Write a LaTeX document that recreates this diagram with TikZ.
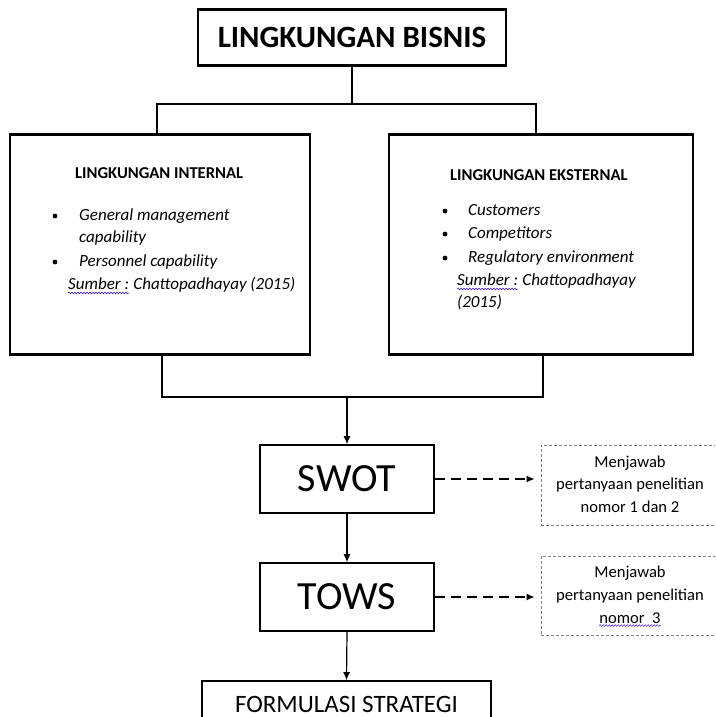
\documentclass[tikz,border=0pt]{standalone}
\usepackage{fontspec}
\setmainfont{Carlito}
\usetikzlibrary{arrows.meta,decorations.pathmorphing}
\begin{document}
\begin{tikzpicture}[x=1pt,y=-1pt,
  bigbox/.style={draw, line width=2.7pt, inner sep=0pt},
  midbox/.style={draw, line width=1.6pt, inner sep=0pt},
  notebox/.style={draw=gray, line width=0.9pt, dash pattern=on 3pt off 2pt, inner sep=0pt},
  link/.style={line width=2pt},
  linkb/.style={line width=2.5pt},
  arr/.style={line width=1.2pt, -{Latex[length=8pt,width=7pt]}},
  darr/.style={arr, dash pattern=on 10pt off 6pt},
  wavy/.style={draw=blue!60!violet, line width=0.5pt, decorate, decoration={snake, amplitude=0.8pt, segment length=3pt}},
  ttl/.style={anchor=base west, inner sep=0pt, font=\fontsize{16.6}{18}\selectfont\bfseries},
  itx/.style={anchor=base west, inner sep=0pt, font=\fontsize{17}{18}\selectfont\itshape},
  ntx/.style={anchor=base, inner sep=0pt, font=\fontsize{16.6}{18}\selectfont},
  bul/.style={fill=black}
]
\useasboundingbox (0,0) rectangle (715,717);
\clip (0,0) rectangle (715,717);

% top
\node[bigbox, minimum width=308pt, minimum height=56pt, font=\fontsize{31}{32}\selectfont\bfseries] (top) at (352,37.5) {LINGKUNGAN BISNIS};

% side boxes
\node[bigbox, minimum width=300pt, minimum height=220pt] (lb) at (160,244.5) {};
\node[bigbox, minimum width=304pt, minimum height=220pt] (rb) at (541,244.5) {};

% connectors top
\coordinate (jl) at (157,104);
\coordinate (jr) at (536,104);
\draw[link] (top.south) -- (top.south |- jl);
\draw[link] (lb.north -| jl) -- (jl) -- (jr) -- (rb.north -| jr);

% left box text
\node[ttl] (lbt) at (75,178) {LINGKUNGAN INTERNAL};
\fill[bul] (55,216) circle (2.4);
\node[itx] (l1) at (79,220) {General management};
\node[itx] (l2) at (79,242) {capability};
\fill[bul] (55,262) circle (2.4);
\node[itx] (l3) at (79,266) {Personnel capability};
\node[itx] (ls1) at (68,289) {Sumber :};
\node[itx] (ls2) at (ls1.base east) {\ Chattopadhayay (2015)};
\draw[wavy] ([yshift=-4pt]ls1.base west) -- ([yshift=-4pt]ls1.base east);

% right box text
\node[ttl] (rbt) at (450,180) {LINGKUNGAN EKSTERNAL};
\fill[bul] (445,211) circle (2.4);
\node[itx] (r1) at (468,215) {Customers};
\fill[bul] (445,234) circle (2.4);
\node[itx] (r2) at (468,238) {Competitors};
\fill[bul] (445,258) circle (2.4);
\node[itx] (r3) at (468,262) {Regulatory environment};
\node[itx] (rs1) at (457,285) {Sumber :};
\node[itx] (rs2) at (rs1.base east) {\ Chattopadhayay};
\node[itx] (rs3) at (457,307) {(2015)};
\draw[wavy] ([yshift=-4pt]rs1.base west) -- ([yshift=-4pt]rs1.base east);

% bottom bracket
\coordinate (bl) at (162,397);
\coordinate (br) at (543,397);
\coordinate (bm) at (347,397);
\draw[linkb] (lb.south -| bl) -- (bl) -- (br) -- (rb.south -| br);

% flow
\node[midbox, minimum width=174pt, minimum height=68pt, font=\fontsize{40}{44}\selectfont] (swot) at (347,479) {SWOT};
\node[midbox, minimum width=174pt, minimum height=68pt, font=\fontsize{40}{44}\selectfont] (tows) at (347,597) {TOWS};
\node[midbox, minimum width=289pt, minimum height=50pt] (form) at (346.5,706) {};
\node[anchor=base, inner sep=0pt, font=\fontsize{25}{28}\selectfont] (formtxt) at (346.5,712) {FORMULASI STRATEGI};

\draw[arr] (bm) -- (swot.north);
\draw[arr] (swot.south) -- (tows.north);
\draw[arr] (tows.south) -- (form.north);

% notes
\node[notebox, minimum width=178pt, minimum height=80pt] (n1) at (630,485) {};
\node[ntx] (n1a) at (630,467) {Menjawab};
\node[ntx] (n1b) at (630,489) {pertanyaan penelitian};
\node[ntx] (n1c) at (630,512) {nomor 1 dan 2};
\node[notebox, minimum width=178pt, minimum height=79pt] (n2) at (630,595.5) {};
\node[ntx] (n2a) at (630,577) {Menjawab};
\node[ntx] (n2b) at (630,600) {pertanyaan penelitian};
\node[ntx] (n2c) at (630,623) {nomor\ \ 3};
\draw[wavy] ([yshift=-2.5pt]n2c.base west) -- ([yshift=-2.5pt]n2c.base east);

\draw[darr, shorten >=6pt] (swot.east) -- (swot.east -| n1.west);
\draw[darr, shorten >=6pt] (tows.east) -- (tows.east -| n2.west);
\end{tikzpicture}
\end{document}
